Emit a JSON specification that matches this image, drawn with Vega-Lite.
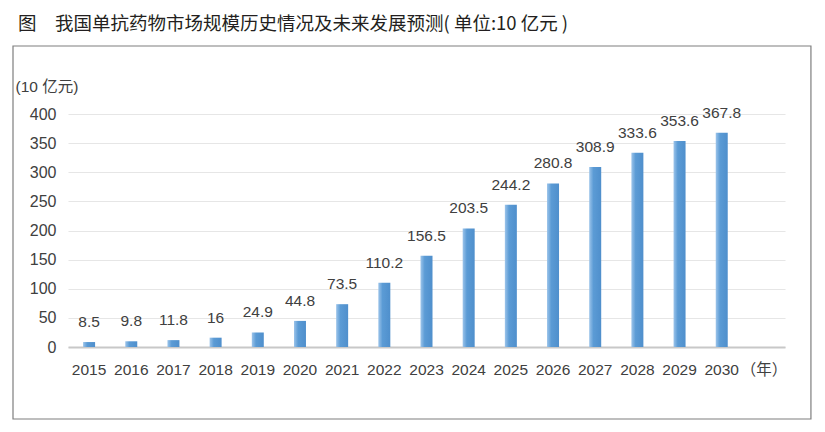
{
  "$schema": "https://vega.github.io/schema/vega-lite/v6.json",
  "width": 717,
  "height": 233,
  "autosize": {"type": "none"},
  "padding": {"left": 68, "top": 114, "right": 40, "bottom": 85},
  "background": "white",
  "title": {
    "text": "图　我国单抗药物市场规模历史情况及未来发展预测( 单位:10 亿元 )",
    "anchor": "start",
    "frame": "group",
    "dx": -50,
    "dy": 2,
    "offset": 14,
    "fontSize": 18.5,
    "font": "Noto Sans CJK SC",
    "fontWeight": "normal",
    "color": "#231f20"
  },
  "config": {
    "view": {"stroke": null},
    "font": "Liberation Sans, Noto Sans CJK SC",
    "axis": {"labelColor": "#404040", "labelFont": "Liberation Sans, Noto Sans CJK SC"}
  },
  "resolve": {"scale": {"x": "independent", "y": "independent"}, "axis": {"x": "independent", "y": "independent"}},
  "data": {
    "values": [
      {"year": "2015", "value": 8.5},
      {"year": "2016", "value": 9.8},
      {"year": "2017", "value": 11.8},
      {"year": "2018", "value": 16},
      {"year": "2019", "value": 24.9},
      {"year": "2020", "value": 44.8},
      {"year": "2021", "value": 73.5},
      {"year": "2022", "value": 110.2},
      {"year": "2023", "value": 156.5},
      {"year": "2024", "value": 203.5},
      {"year": "2025", "value": 244.2},
      {"year": "2026", "value": 280.8},
      {"year": "2027", "value": 308.9},
      {"year": "2028", "value": 333.6},
      {"year": "2029", "value": 353.6},
      {"year": "2030", "value": 367.8}
    ]
  },
  "layer": [
    {
      "data": {"values": [{}]},
      "mark": {"type": "rect", "fill": null, "stroke": "#7f7f7f", "strokeWidth": 1.2, "clip": false},
      "encoding": {
        "x": {"datum": -1.304, "type": "quantitative", "scale": {"domain": [0, 17], "nice": false, "zero": false}, "axis": null},
        "x2": {"datum": 17.615},
        "y": {"datum": 516.7, "type": "quantitative", "scale": {"domain": [0, 400], "nice": false, "zero": false}, "axis": null},
        "y2": {"datum": -123.6}
      }
    },
    {
      "resolve": {"scale": {"x": "shared", "y": "shared"}, "axis": {"x": "shared", "y": "shared"}},
      "encoding": {
        "x": {
          "field": "year",
          "type": "nominal",
          "sort": null,
          "scale": {
            "domain": ["2015","2016","2017","2018","2019","2020","2021","2022","2023","2024","2025","2026","2027","2028","2029","2030","（年）"],
            "paddingInner": 0,
            "paddingOuter": 0
          },
          "axis": {
            "title": null,
            "labelAngle": 0,
            "ticks": false,
            "grid": false,
            "domainColor": "#c8c8c8",
            "domainWidth": 2,
            "labelPadding": 15,
            "labelFontSize": 15.5,
            "labelOverlap": false,
            "labelFont": "Liberation Sans, Noto Sans CJK SC"
          }
        },
        "y": {
          "field": "value",
          "type": "quantitative",
          "scale": {"domain": [0, 400], "nice": false},
          "axis": {
            "values": [0, 50, 100, 150, 200, 250, 300, 350, 400],
            "tickCount": 12,
            "labelOverlap": false,
            "domain": false,
            "ticks": false,
            "grid": true,
            "gridColor": "#e6e6e6",
            "gridWidth": 1.2,
            "labelPadding": 12,
            "labelFontSize": 16,
            "title": "(10 亿元)",
            "titleAngle": 0,
            "titleAlign": "left",
            "titleBaseline": "middle",
            "titleX": -53,
            "titleY": -28,
            "titleFontSize": 15.5,
            "titleFontWeight": "normal",
            "titleColor": "#404040",
            "titleFont": "Liberation Sans, Noto Sans CJK SC"
          }
        }
      },
      "layer": [
        {
          "mark": {
            "type": "bar",
            "width": 12,
            "color": {
              "gradient": "linear",
              "x1": 0, "x2": 1, "y1": 0, "y2": 0,
              "stops": [
                {"offset": 0, "color": "#9cc4ea"},
                {"offset": 0.35, "color": "#5b9bd5"},
                {"offset": 1, "color": "#4f8fcc"}
              ]
            }
          }
        },
        {
          "mark": {"type": "text", "baseline": "middle", "dy": -20, "fontSize": 15.5, "color": "#404040", "font": "Liberation Sans"},
          "encoding": {
            "text": {"field": "value", "type": "nominal"}
          }
        }
      ]
    }
  ]
}
